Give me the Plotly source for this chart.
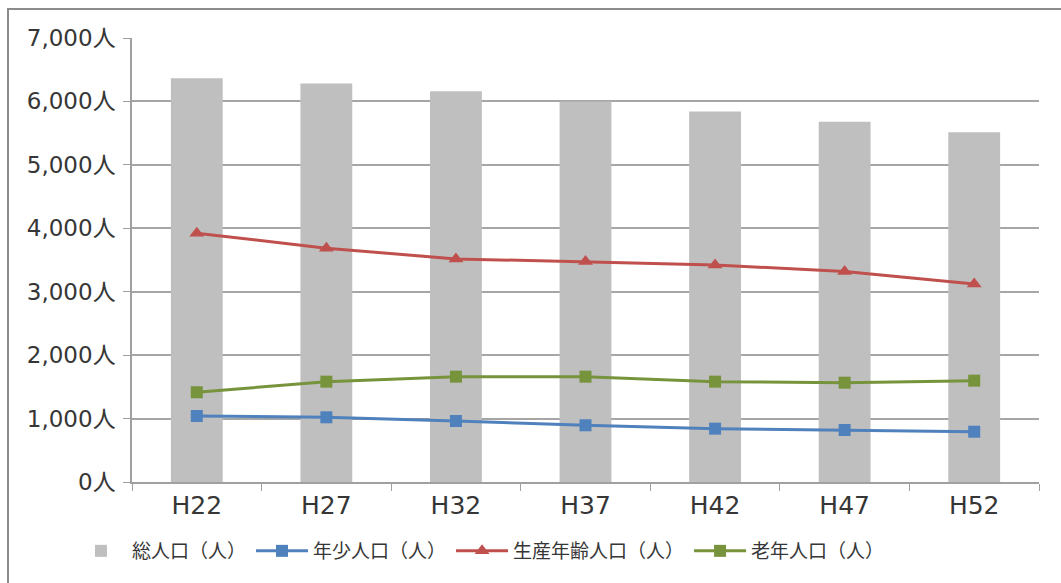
import plotly.graph_objects as go

# Census years (Heisei) and population projections
years = ["H22", "H27", "H32", "H37", "H42", "H47", "H52"]
total_pop = [6367, 6282, 6162, 5998, 5841, 5678, 5516]
youth_pop = [1041, 1020, 962, 894, 841, 820, 793]
working_pop = [3922, 3686, 3517, 3475, 3423, 3317, 3123]
elderly_pop = [1415, 1582, 1661, 1661, 1582, 1566, 1598]

y_ticks = [0, 1000, 2000, 3000, 4000, 5000, 6000, 7000]
y_tick_text = [f"{v:,}人" for v in y_ticks]

CJK = "Noto Sans CJK JP"
LATIN = "DejaVu Sans, Noto Sans CJK JP"
TEXT = "#363636"

fig = go.Figure()
fig.add_trace(go.Bar(
    x=years, y=total_pop, name="総人口（人）",
    marker=dict(color="#BFBFBF", line=dict(width=0)),
))
fig.add_trace(go.Scatter(
    x=years, y=youth_pop, name="年少人口（人）", mode="lines+markers",
    line=dict(color="#4F81BD", width=3),
    marker=dict(symbol="square", size=12, color="#4F81BD"),
))
fig.add_trace(go.Scatter(
    x=years, y=working_pop, name="生産年齢人口（人）", mode="lines+markers",
    line=dict(color="#C0504D", width=3),
    marker=dict(symbol="triangle-up", size=13, color="#C0504D"),
))
fig.add_trace(go.Scatter(
    x=years, y=elderly_pop, name="老年人口（人）", mode="lines+markers",
    line=dict(color="#77933C", width=3),
    marker=dict(symbol="square", size=12, color="#77933C"),
))

# outer frame around the chart
L, R, T, B = 132, 22, 38, 101
W, H = 1061, 583
pw, ph = W - L - R, H - T - B
def px_x(x):
    return (x - L) / pw
def px_y(y):
    return (H - B - y) / ph

fig.add_shape(
    type="rect", xref="paper", yref="paper",
    x0=px_x(8), x1=px_x(1080), y0=px_y(600), y1=px_y(9),
    line=dict(color="#8C8C8C", width=2), fillcolor="rgba(0,0,0,0)", layer="below",
)

fig.update_layout(
    width=W, height=H,
    margin=dict(l=L, r=R, t=T, b=B),
    paper_bgcolor="white", plot_bgcolor="white",
    font=dict(family=CJK, color=TEXT, size=19),
    bargap=0.6,
    showlegend=True,
    legend=dict(
        orientation="h", x=px_x(70), xanchor="left", y=px_y(551), yanchor="middle",
        font=dict(size=19, family=CJK, color=TEXT),
        itemwidth=52, traceorder="normal", itemsizing="trace",
    ),
    xaxis=dict(
        type="category", showgrid=False, showline=True, linecolor="#A0A0A0", linewidth=1.5,
        ticks="outside", tickson="boundaries", ticklen=7, tickcolor="#A0A0A0",
        tickfont=dict(size=25, family=LATIN, color=TEXT),
    ),
    yaxis=dict(
        range=[0, 7000], tickvals=y_ticks, ticktext=y_tick_text,
        showgrid=True, gridcolor="#A6A6A6", gridwidth=1.5,
        showline=True, linecolor="#A0A0A0", linewidth=1.5,
        ticks="outside", ticklen=7, tickcolor="#A0A0A0", ticklabelstandoff=3,
        tickfont=dict(size=23, family=LATIN, color=TEXT),
        zeroline=False,
    ),
)

fig.write_html("out.html")
